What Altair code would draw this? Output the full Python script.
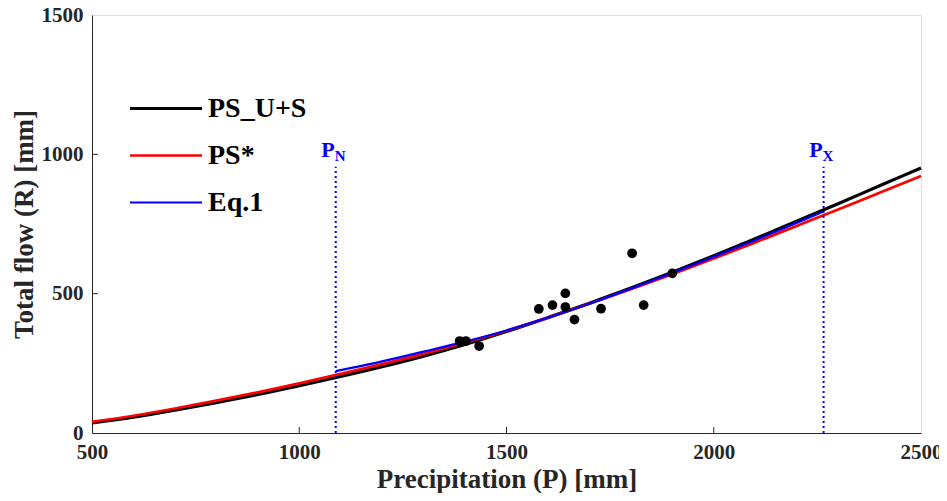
import altair as alt
import pandas as pd

# Curve samples (precipitation P, total flow R)
P_curve = [500, 600, 700, 800, 900, 1000, 1100, 1200, 1300, 1400, 1500,
           1600, 1700, 1800, 1900, 2000, 2100, 2200, 2300, 2400, 2500]
R_black = [36, 57, 82, 109, 138, 170, 203, 238, 276, 318, 364,
           414, 466, 520, 577, 636, 697, 760, 823, 887, 951]
R_red = [40, 62, 88, 116, 146, 178, 212, 247, 284, 324, 367,
         414, 464, 516, 570, 626, 684, 743, 802, 862, 922]
P_blue = [1088, 1200, 1300, 1400, 1500, 1600, 1700, 1800, 1900, 2000, 2100, 2200, 2265]
R_blue = [222, 257, 292, 328, 368, 414, 464, 518, 574, 632, 692, 754, 795]

# Observations
P_obs = [1387, 1402, 1434, 1578, 1611, 1642, 1642, 1664, 1728, 1803, 1831, 1900]
R_obs = [330, 330, 312, 445, 459, 501, 452, 407, 446, 645, 459, 573]

# Threshold lines
thr_P = [1088, 2265]
thr_sub = ["N", "X"]
thr_top = 955
thr_label = 1015

x_ticks = [500, 1000, 1500, 2000, 2500]
y_ticks = [0, 500, 1000, 1500]

series_names = ["PS_U+S", "PS*", "Eq.1"]
series_colors = ["#000000", "#ff0000", "#0000ff"]
series_widths = [3.2, 2.2, 2.8]

rows = []
for p, r in zip(P_curve, R_black):
    rows.append({"P": p, "R": r, "s": "PS_U+S"})
for p, r in zip(P_curve, R_red):
    rows.append({"P": p, "R": r, "s": "PS*"})
for p, r in zip(P_blue, R_blue):
    rows.append({"P": p, "R": r, "s": "Eq.1"})
curves = pd.DataFrame(rows)
obs = pd.DataFrame({"P": P_obs, "R": R_obs})
thr = pd.DataFrame({"P": thr_P, "sub": thr_sub, "R0": [0] * 2, "R1": [thr_top] * 2,
                    "Rl": [thr_label] * 2})
xt_df = pd.DataFrame({"P": x_ticks[1:-1]})
yt_df = pd.DataFrame({"R": y_ticks[1:-1]})

FONT = "Liberation Serif"
AX = "#262626"
xs = alt.Scale(domain=[500, 2500], nice=False)
ys = alt.Scale(domain=[0, 1500], nice=False)

xaxis = alt.Axis(values=x_ticks, format="d", title="Precipitation (P) [mm]",
                 labelFont=FONT, labelFontSize=21, labelFontWeight="bold", labelColor=AX,
                 titleFont=FONT, titleFontSize=27, titleFontWeight="bold", titleColor=AX,
                 ticks=False, grid=False, domainColor=AX, labelPadding=8, titlePadding=4,
                 labelFlush=False)
yaxis = alt.Axis(values=y_ticks, format="d", title="Total flow (R) [mm]",
                 labelFont=FONT, labelFontSize=21, labelFontWeight="bold", labelColor=AX,
                 titleFont=FONT, titleFontSize=27, titleFontWeight="bold", titleColor=AX,
                 ticks=False, grid=False, domainColor=AX, labelPadding=9, titlePadding=3,
                 labelFlush=False)

leg = alt.Legend(title=None, orient="none", legendX=36, legendY=80,
                 symbolType="stroke", symbolSize=5184,
                 labelFont=FONT, labelFontSize=28,
                 labelFontWeight="bold", labelColor="#000000",
                 clipHeight=27, rowPadding=18, labelOffset=4)

lines = alt.Chart(curves).mark_line(interpolate="monotone").encode(
    x=alt.X("P:Q", scale=xs, axis=xaxis),
    y=alt.Y("R:Q", scale=ys, axis=yaxis),
    color=alt.Color("s:N", scale=alt.Scale(domain=series_names, range=series_colors),
                    legend=leg),
    strokeWidth=alt.StrokeWidth("s:N", scale=alt.Scale(domain=series_names, range=series_widths),
                                legend=leg),
)

pts = alt.Chart(obs).mark_circle(size=95, color="#000000", opacity=1).encode(
    x=alt.X("P:Q", scale=xs), y=alt.Y("R:Q", scale=ys))

vlines = alt.Chart(thr).mark_rule(color="#0000ff", strokeWidth=2, strokeDash=[2, 3]).encode(
    x=alt.X("P:Q", scale=xs), y=alt.Y("R0:Q", scale=ys), y2="R1:Q")

lblP = alt.Chart(thr).mark_text(text="P", font=FONT, fontSize=22, fontWeight="bold",
                                color="#0000ff", align="right", dx=-1).encode(
    x=alt.X("P:Q", scale=xs), y=alt.Y("Rl:Q", scale=ys))
lblS = alt.Chart(thr).mark_text(font=FONT, fontSize=15, fontWeight="bold",
                                color="#0000ff", align="left", dx=-1, dy=6).encode(
    x=alt.X("P:Q", scale=xs), y=alt.Y("Rl:Q", scale=ys), text="sub:N")

# inward ticks (MATLAB style)
xticks_in = alt.Chart(xt_df).mark_rule(color=AX, strokeWidth=1).encode(
    x=alt.X("P:Q", scale=xs), y=alt.value(418), y2=alt.value(412))
yticks_in = alt.Chart(yt_df).mark_rule(color=AX, strokeWidth=1).encode(
    y=alt.Y("R:Q", scale=ys), x=alt.value(0), x2=alt.value(6))

chart = alt.layer(lines, vlines, pts, lblP, lblS, xticks_in, yticks_in).properties(
    width=829, height=418,
    autosize=alt.AutoSizeParams(type="none"),
    padding={"left": 84, "top": 7, "right": 18, "bottom": 60},
).configure_view(stroke=AX, strokeWidth=1.2).configure(background="white")

chart.save("out.html", embed_options={"renderer": "svg", "actions": False})
